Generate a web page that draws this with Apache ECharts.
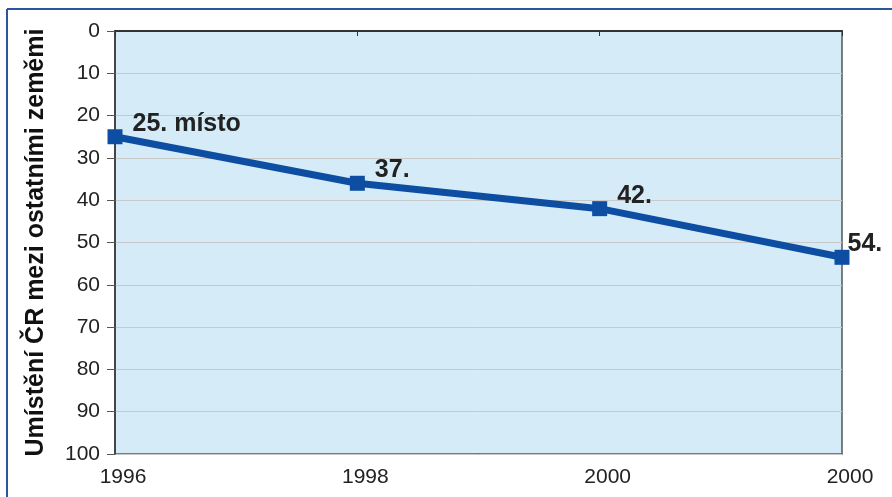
<!DOCTYPE html>
<html>
<head>
<meta charset="utf-8">
<script src="https://cdn.jsdelivr.net/npm/echarts@6/dist/echarts.min.js"></script>
<style>
  * { margin: 0; padding: 0; }
  html, body { background: #fff; }
</style>
</head>
<body>
<div id="main" style="width: 892px; height: 497px;"></div>
<script>
// years on x axis (the last label repeats in the original)
var years = ['1996', '1998', '2000', '2000']
// rank of the country
var ranks = [25, 36, 42, 53.5]
var pointLabels = ['25. místo', '37.', '42.', '54.']
var yTitle = 'Umístění ČR mezi ostatními zeměmi'

var myChart = echarts.init(document.getElementById('main'))

// last label sits closer to its point in the original
var seriesData = ranks.map(function (v, i) {
  if (i === ranks.length - 1) {
    return { value: v, label: { offset: [-12, -13] } }
  }
  return v
})

var option = {
  animation: false,
  graphic: [
    // blue frame of the figure (top and left edge)
    { type: 'line', shape: { x1: 7, y1: 9, x2: 892, y2: 9 }, style: { stroke: '#2b55a0', lineWidth: 2 } },
    { type: 'line', shape: { x1: 7, y1: 9, x2: 7, y2: 497 }, style: { stroke: '#2b55a0', lineWidth: 2 } }
  ],
  grid: {
    left: 115,
    right: 50,
    top: 31,
    bottom: 43,
    show: true,
    backgroundColor: '#d5ebf8',
    borderColor: '#555',
    borderWidth: 1.5
  },
  xAxis: {
    type: 'category',
    boundaryGap: false,
    data: years,
    axisLine: { lineStyle: { color: '#333', width: 2 } },
    axisTick: { show: true, length: 5, lineStyle: { color: '#333' } },
    axisLabel: {
      color: '#222',
      fontFamily: 'Liberation Sans',
      fontSize: 21,
      margin: 13,
      padding: [0, 0, 0, 16]
    },
    splitLine: { show: false }
  },
  yAxis: {
    type: 'value',
    inverse: true,
    min: 0,
    max: 100,
    interval: 10,
    name: yTitle,
    nameLocation: 'middle',
    nameGap: 66,
    nameRotate: 90,
    nameTextStyle: {
      color: '#111',
      fontFamily: 'Liberation Sans',
      fontWeight: 'bold',
      fontSize: 25
    },
    axisLine: { show: true, lineStyle: { color: '#333', width: 1.5 } },
    axisTick: { show: true, length: 8, lineStyle: { color: '#555' } },
    axisLabel: {
      color: '#222',
      fontFamily: 'Liberation Sans',
      fontSize: 21,
      margin: 15
    },
    splitLine: { show: true, lineStyle: { color: '#c9c9c9', width: 1 } }
  },
  series: [{
    type: 'line',
    data: seriesData,
    symbol: 'rect',
    symbolSize: 15,
    lineStyle: { color: '#0d4ea3', width: 7 },
    itemStyle: { color: '#0d4ea3' },
    label: {
      show: true,
      position: 'right',
      distance: 10,
      offset: [0, -13],
      formatter: function (p) { return pointLabels[p.dataIndex] },
      color: '#222',
      fontFamily: 'Liberation Sans',
      fontWeight: 'bold',
      fontSize: 25
    }
  }]
}

myChart.setOption(option)
</script>
</body>
</html>
